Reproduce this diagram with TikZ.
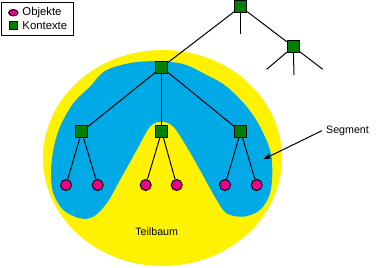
\documentclass[tikz,border=0pt]{standalone}
\usepackage{fontspec}
\setmainfont{Liberation Sans}
\usetikzlibrary{arrows.meta,shapes.geometric}
\definecolor{kyellow}{RGB}{255,242,0}
\definecolor{kblue}{RGB}{0,170,230}
\definecolor{kgreen}{RGB}{0,128,0}
\definecolor{kpink}{RGB}{236,0,140}
\begin{document}
\begin{tikzpicture}[x=0.75pt,y=-0.75pt,
  ctx/.style={draw=black, fill=kgreen, minimum size=9pt, inner sep=0pt, line width=0.75pt},
  obj/.style={circle, draw=black, fill=kpink, minimum size=8.25pt, inner sep=0pt, line width=0.75pt},
  conn/.style={draw=black, line width=0.75pt},
  lbl/.style={font=\fontsize{8pt}{9.5pt}\selectfont, inner sep=0pt},
  leg/.style={font=\fontsize{8.5pt}{10pt}\selectfont, inner sep=0pt, anchor=west}]
\useasboundingbox (0,0) rectangle (379,268);
\fill[white] (0,0) rectangle (379,268);
% segment areas
\fill[kyellow] (162.5,158) ellipse [x radius=119.5, y radius=108];
\fill[kblue] plot[smooth cycle, tension=0.55] coordinates {
 (106.7,70) (140,61.7) (180,63.3) (206.7,75) (226.7,86.7) (246.7,106.7)
 (260,126.7) (270,150) (272.3,170) (270,193.3) (260,210) (243.3,216.7)
 (226.7,213.3) (216.7,200) (200,170) (186.7,146.7) (173.3,126.7) (161.7,121.7)
 (150,126.7) (136.7,150) (120,180) (106.7,203.3) (93.3,216.7) (80,218.3)
 (63.3,210) (53.3,193.3) (51,173.3) (53.3,150) (60,126.7) (73.3,103.3) (90,86.7)};
% legend
\node[draw=black, line width=0.75pt, minimum width=53.5pt, minimum height=25pt, inner sep=0pt] (legend) at (37.5,19) {};
\node[ellipse, draw=black, fill=kpink, minimum width=7pt, minimum height=4.8pt, inner sep=0pt, line width=0.75pt] (legobj) at (13.3,12.7) {};
\node[ctx, minimum size=6pt] (legctx) at (13.3,25) {};
\node[leg] (legobjt) at (22.2,12.7) {Objekte};
\node[leg] (legctxt) at (22.2,25.3) {Kontexte};
% tree nodes
\node[ctx] (top) at (240.7,6.7) {};
\node[ctx] (sec) at (293.3,46.7) {};
\node[ctx] (root) at (161.7,67.3) {};
\node[ctx] (a) at (81.7,131.7) {};
\node[ctx] (b) at (161.7,131.7) {};
\node[ctx] (c) at (240.7,131.7) {};
\node[obj] (a1) at (66,185) {};
\node[obj] (a2) at (97.7,185) {};
\node[obj] (b1) at (145.7,185) {};
\node[obj] (b2) at (176.7,185) {};
\node[obj] (c1) at (225,185) {};
\node[obj] (c2) at (256.7,185) {};
\coordinate (topd) at (240.7,34.3);
\coordinate (secl) at (266.7,69.3);
\coordinate (secd) at (294,75);
\coordinate (secr) at (322.7,69.3);
\draw[conn] (top) -- (root);
\draw[conn] (top) -- (sec);
\draw[conn] (top) -- (topd);
\draw[conn] (sec) -- (secl);
\draw[conn] (sec) -- (secd);
\draw[conn] (sec) -- (secr);
\draw[conn] (root) -- (a);
\draw[conn] (root) -- (b);
\draw[conn] (root) -- (c);
\draw[conn] (a) -- (a1);
\draw[conn] (a) -- (a2);
\draw[conn] (b) -- (b1);
\draw[conn] (b) -- (b2);
\draw[conn] (c) -- (c1);
\draw[conn] (c) -- (c2);
% labels
\node[lbl] (teil) at (156.7,231.7) {Teilbaum};
\node[lbl] (seg) at (347.5,130.7) {Segment};
\coordinate (segtip) at (263.3,159.3);
\draw[conn, -{Stealth[length=6pt,width=4pt]}] ([xshift=-3pt]seg.west) -- (segtip);
\end{tikzpicture}
\end{document}
